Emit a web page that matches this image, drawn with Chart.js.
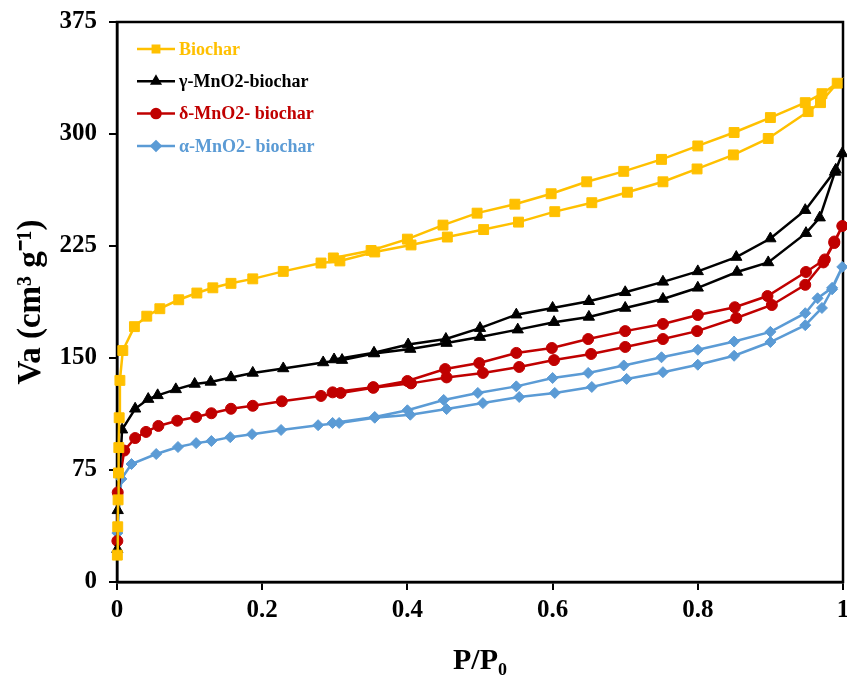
<!DOCTYPE html>
<html>
<head>
<meta charset="utf-8">
<script src="https://cdn.jsdelivr.net/npm/chart.js@4.4.0/dist/chart.umd.min.js"></script>
<style>
  html, body { margin: 0; padding: 0; background: #fff; }
  #wrap { width: 847px; height: 679px; position: relative; }
</style>
</head>
<body>
<div id="wrap"><canvas id="isoChart" width="847" height="679"></canvas></div>
<script>
// Series labels and colours
const seriesNames = ['Biochar', '\u03B3-MnO2-biochar', '\u03B4-MnO2- biochar', '\u03B1-MnO2- biochar'];
const seriesColors = ['#FFC000', '#000000', '#C00000', '#5B9BD5'];
const seriesMarkers = ['rect', 'triangle', 'circle', 'rectRot'];

// Biochar: adsorption then desorption branch
const biocharP = [0.0005, 0.001, 0.0015, 0.002, 0.0025, 0.003, 0.004, 0.008, 0.024, 0.041, 0.059, 0.085, 0.11, 0.132, 0.157, 0.187, 0.229, 0.281, 0.307, 0.355, 0.405, 0.455, 0.505, 0.553, 0.603, 0.654, 0.703, 0.752, 0.799, 0.849, 0.897, 0.952, 0.969, 0.992,
                  0.971, 0.948, 0.90, 0.85, 0.80, 0.75, 0.698, 0.647, 0.598, 0.548, 0.496, 0.449, 0.40, 0.35, 0.298];
const biocharV = [18, 37, 55, 73, 90, 110, 135, 155, 171, 178, 183, 189, 193.5, 197, 200, 203, 208, 213.6, 215, 221, 225.7, 231, 236, 241, 248, 254, 261, 268, 276.6, 286, 297, 315, 321, 334,
                  327, 321, 311, 301, 292, 283, 275, 268, 260, 253, 247, 239, 229.6, 222, 217];

// gamma-MnO2-biochar
const gammaP = [0.0005, 0.001, 0.007, 0.025, 0.043, 0.056, 0.081, 0.107, 0.129, 0.157, 0.187, 0.229, 0.284, 0.31, 0.354, 0.404, 0.454, 0.50, 0.552, 0.602, 0.65, 0.70, 0.752, 0.80, 0.854, 0.897, 0.949, 0.968, 0.989, 0.999,
                0.99, 0.948, 0.90, 0.853, 0.80, 0.752, 0.70, 0.65, 0.60, 0.55, 0.50, 0.453, 0.401, 0.354, 0.299];
const gammaV = [22, 48, 102, 116, 122.5, 125, 129, 132.6, 134, 137, 140, 143, 147, 148.6, 153, 156, 160, 164, 169, 174, 177.5, 183.5, 189.5, 197, 207.6, 214, 233.6, 244, 274.6, 287,
                276, 249, 230, 217.6, 208, 201, 194, 188, 183.5, 179, 170, 162.7, 159, 153.5, 149];

// delta-MnO2-biochar
const deltaP = [0.0005, 0.001, 0.01, 0.025, 0.04, 0.057, 0.083, 0.109, 0.13, 0.157, 0.187, 0.227, 0.281, 0.308, 0.353, 0.405, 0.454, 0.504, 0.554, 0.602, 0.653, 0.70, 0.752, 0.799, 0.853, 0.902, 0.948, 0.973, 0.988, 0.999,
                0.988, 0.975, 0.949, 0.896, 0.851, 0.80, 0.752, 0.70, 0.649, 0.599, 0.55, 0.499, 0.452, 0.40, 0.353, 0.297];
const deltaV = [27.5, 60, 88, 96.4, 100.5, 104.5, 108, 110.5, 113, 116, 118, 121, 124.6, 126.6, 130, 133, 137, 140, 144, 148.6, 152.7, 157.4, 162.7, 168, 176.8, 185.5, 199, 214, 227, 238.4,
                228, 216, 207.6, 191.5, 184, 178.8, 172.8, 168, 162.7, 156.7, 153.4, 146.6, 142.6, 134.6, 130.5, 127];

// alpha-MnO2-biochar
const alphaP = [0.0005, 0.006, 0.02, 0.054, 0.084, 0.109, 0.13, 0.156, 0.186, 0.226, 0.277, 0.306, 0.355, 0.404, 0.454, 0.504, 0.554, 0.603, 0.654, 0.702, 0.752, 0.80, 0.85, 0.90, 0.948, 0.971, 0.985, 0.999,
                0.985, 0.965, 0.948, 0.90, 0.85, 0.80, 0.75, 0.698, 0.649, 0.60, 0.55, 0.497, 0.45, 0.40, 0.355, 0.297];
const alphaV = [32.8, 69, 79, 85.7, 90.4, 93, 94.4, 97, 99, 101.8, 105, 106.5, 110, 112, 115.8, 119.8, 123.9, 126.6, 130.6, 136, 140.5, 145.5, 151.5, 160.7, 172, 183.5, 196, 211,
                197, 190, 180, 167.5, 161, 155.5, 150.5, 145, 140, 136.6, 131, 126.6, 121.9, 115, 110.5, 106.5];

// Axis ticks
const xTicks = [0, 0.2, 0.4, 0.6, 0.8, 1];
const xTickLabels = ['0', '0.2', '0.4', '0.6', '0.8', '1'];
const yTicks = [0, 75, 150, 225, 300, 375];

const allP = [biocharP, gammaP, deltaP, alphaP];
const allV = [biocharV, gammaV, deltaV, alphaV];
const markerRadius = [7, 6.5, 5.5, 5.5];

const datasets = seriesNames.map((name, i) => ({
    label: name,
    data: allP[i].map((p, k) => ({ x: p, y: allV[i][k] })),
    showLine: true,
    clip: false,
    borderColor: seriesColors[i],
    backgroundColor: seriesColors[i],
    borderWidth: 2.5,
    pointStyle: seriesMarkers[i],
    pointRadius: markerRadius[i],
    pointBorderWidth: 1,
    tension: 0
}));

const serif = "'Liberation Serif', 'Times New Roman', serif";

// frame around the plot and a legend inside the plot
const framePlugin = {
    id: 'frame',
    beforeDatasetsDraw(chart) {
        const { ctx, chartArea: a } = chart;
        ctx.save();
        ctx.strokeStyle = '#000';
        ctx.lineWidth = 2.5;
        ctx.strokeRect(a.left, a.top, a.right - a.left, a.bottom - a.top);
        ctx.restore();
    },
    afterDraw(chart) {
        const { ctx, chartArea: a } = chart;
        ctx.save();
        // legend
        ctx.font = 'bold 18px ' + serif;
        ctx.textBaseline = 'middle';
        chart.data.datasets.forEach((ds, i) => {
            const y = a.top + 27 + i * 32.3;
            const x0 = a.left + 20;
            ctx.strokeStyle = ds.borderColor;
            ctx.lineWidth = 2.5;
            ctx.beginPath();
            ctx.moveTo(x0, y);
            ctx.lineTo(x0 + 38, y);
            ctx.stroke();
            ctx.fillStyle = ds.backgroundColor;
            Chart.helpers.drawPoint(ctx, { pointStyle: ds.pointStyle, radius: 4.5, borderWidth: 1 }, x0 + 19, y);
            ctx.fill();
            ctx.fillStyle = ds.borderColor;
            ctx.fillText(ds.label, x0 + 42, y + 1);
        });
        ctx.restore();
    }
};

new Chart(document.getElementById('isoChart'), {
    type: 'scatter',
    data: { datasets: datasets },
    options: {
        responsive: false,
        animation: false,
        layout: { autoPadding: false, padding: { left: 0, top: 22, right: 4, bottom: 0 } },
        plugins: {
            legend: { display: false },
            tooltip: { enabled: false }
        },
        scales: {
            x: {
                type: 'linear',
                min: 0,
                max: 1,
                afterBuildTicks: (scale) => { scale.ticks = xTicks.map(v => ({ value: v })); },
                afterFit: (scale) => { scale.height = 97; scale.paddingRight = 0; scale.paddingLeft = 0; },
                ticks: {
                    color: '#000',
                    padding: 6,
                    font: { family: serif, size: 25, weight: 'bold' },
                    callback: (v) => xTickLabels[xTicks.indexOf(v)]
                },
                grid: { drawOnChartArea: false, drawTicks: true, tickLength: 8, color: '#000', lineWidth: 2 },
                border: { color: '#000', width: 2.5 },
                title: {
                    display: true,
                    text: 'P/P\u2080',
                    color: '#000',
                    font: { family: serif, size: 30, weight: 'bold' },
                    padding: { top: 0, bottom: 0 }
                }
            },
            y: {
                type: 'linear',
                min: 0,
                max: 375,
                afterBuildTicks: (scale) => { scale.ticks = yTicks.map(v => ({ value: v })); },
                afterFit: (scale) => { scale.width = 117; scale.paddingTop = 0; scale.paddingBottom = 0; },
                ticks: {
                    color: '#000',
                    padding: 12,
                    font: { family: serif, size: 25, weight: 'bold' }
                },
                grid: { drawOnChartArea: false, drawTicks: true, tickLength: 8, color: '#000', lineWidth: 2 },
                border: { color: '#000', width: 2.5 },
                title: {
                    display: true,
                    text: 'Va (cm\u00B3 g\u207B\u00B9)',
                    color: '#000',
                    font: { family: serif, size: 33, weight: 'bold' },
                    padding: { top: 12, bottom: 12 }
                }
            }
        }
    },
    plugins: [framePlugin]
});
</script>
</body>
</html>
